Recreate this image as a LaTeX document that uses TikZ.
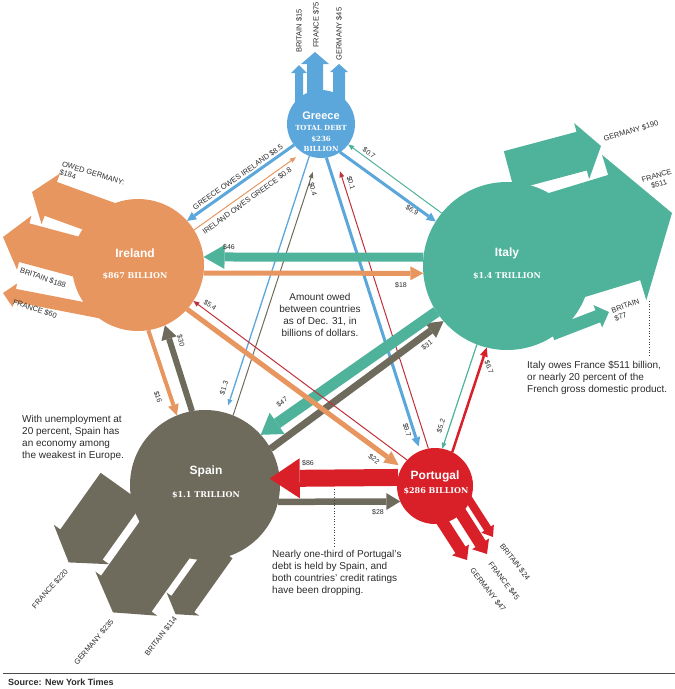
\documentclass[tikz,border=0pt]{standalone}
\usepackage{fontspec}
\setmainfont{Liberation Sans}
\newfontfamily\amtfont{DejaVu Serif}
\usetikzlibrary{arrows.meta,calc}
\definecolor{grc}{HTML}{5BA6DB}
\definecolor{irl}{HTML}{E8965F}
\definecolor{ita}{HTML}{4FB39B}
\definecolor{spn}{HTML}{6E6A5C}
\definecolor{prt}{HTML}{D92029}
\definecolor{prtthin}{HTML}{C0303A}
\definecolor{txtc}{HTML}{2B2B2B}
\tikzset{
  ctry/.style={circle, inner sep=0pt, outer sep=0pt, minimum size=#1},
  flow/.style n args={4}{draw=#1, line width=#2, -{Triangle[length=#4, width=#3, line width=0pt 0 0]}},
  amt/.style={font=\fontsize{7}{8}\selectfont, text=txtc, inner sep=0pt},
  outl/.style={font=\fontsize{7.5}{8.5}\selectfont, text=txtc, inner sep=0pt},
  cname/.style={font=\fontsize{12}{14}\selectfont\bfseries, text=white, inner sep=0pt},
  csum/.style={font=\amtfont\fontsize{8}{9}\selectfont\bfseries, text=white, inner sep=0pt},
  note/.style={font=\fontsize{10}{12}\selectfont, text=txtc, inner sep=0pt, align=left},
  leader/.style={draw=black!75, line width=0.7pt, dotted},
}
% broad outflow arrow: colour, tail, tip, half shaft width, half head width, head length
\newcommand{\fatflow}[6]{%
  \coordinate (fbk) at ($(#3)!#6pt!(#2)$);
  \fill[#1] ($(#2)!#4pt!90:(#3)$) -- ($(fbk)!#4pt!-90:(#2)$) -- ($(fbk)!#5pt!-90:(#2)$)
    -- (#3) -- ($(fbk)!#5pt!90:(#2)$) -- ($(fbk)!#4pt!90:(#2)$) -- ($(#2)!#4pt!-90:(#3)$) -- cycle;}
\begin{document}
\begin{tikzpicture}[x=1pt,y=-1pt]
\useasboundingbox (0,0) rectangle (675,689);

% ---------- outflows to other countries ----------
% Greece
\fatflow{grc}{299,112}{299,65}{4}{8}{8}
\fatflow{grc}{315,112}{315,52}{8}{14}{12}
\fatflow{grc}{339,112}{339,64}{6}{9}{8}
% Ireland
\fatflow{irl}{144.8,233}{32,192}{18}{27}{20}
\fatflow{irl}{128.6,270.7}{3,237}{20}{28}{22}
\fatflow{irl}{101,312}{3,293}{6.5}{12}{12}
% Italy
\fatflow{ita}{509,170.5}{601,146}{20}{29}{20}
\fatflow{ita}{557,248}{672,213}{55}{76}{50}
\fatflow{ita}{552,334}{609,312}{6.5}{12}{12}
% Spain
\fatflow{spn}{121.8,487.9}{68.7,562.4}{26}{34}{22}
\fatflow{spn}{204.2,484.2}{113,612.4}{31}{38}{23}
\fatflow{spn}{221.1,550.2}{175.6,614.2}{14}{20}{12.5}
% Portugal
\fatflow{prt}{429,501}{467,560}{6}{10}{12}
\fatflow{prt}{452,499}{487,554}{6}{10}{12}
\fatflow{prt}{466,495}{493,537}{4}{7.5}{10}

% ---------- countries ----------
\node[ctry=68pt, fill=grc] (greece) at (321,124) {};
\node[ctry=132pt, fill=irl] (ireland) at (138,265) {};
\node[ctry=168pt, fill=ita] (italy) at (507,266) {};
\node[ctry=150pt, fill=spn] (spain) at (205,485) {};
\node[ctry=76pt, fill=prt] (portugal) at (435,486) {};

% ---------- debts between countries ----------
\draw[flow={grc}{3pt}{9pt}{9pt}] (greece.218) -- (ireland.42);
\draw[flow={irl}{1pt}{5pt}{6pt}, shorten >=8pt] (ireland.32.5) -- (greece.237);
\draw[flow={grc}{3pt}{9pt}{9pt}] (greece.-56) -- (italy.148);
\draw[flow={ita}{1pt}{5pt}{6pt}] (italy.141.6) -- (greece.-37);
\draw[flow={grc}{1.3pt}{5pt}{6pt}, shorten >=8pt] (greece.250) -- (spain.74.6);
\draw[flow={spn}{1pt}{5pt}{6pt}, shorten >=15pt] (spain.68.7) -- (greece.264.7);
\draw[flow={grc}{3pt}{9pt}{9pt}, shorten >=5pt] (greece.-81) -- (portugal.113);
\draw[flow={prtthin}{1pt}{5pt}{6pt}, shorten >=17pt] (portugal.100.4) -- (greece.-66.4);
\draw[flow={ita}{9pt}{24pt}{21pt}] (italy.174) -- (ireland.7);
\draw[flow={irl}{5pt}{14pt}{13pt}] (ireland.-7.8) -- (italy.185.5);
\draw[flow={spn}{7pt}{18pt}{16pt}] (spain.29.2) -- (italy.221.4);
\draw[flow={ita}{11pt}{26pt}{20pt}] (italy.213.3) -- (spain.42.5);
\draw[flow={irl}{4pt}{11pt}{11pt}] (ireland.-81.3) -- (spain.112.6);
\draw[flow={spn}{6pt}{16pt}{14pt}] (spain.100.1) -- (ireland.-66.8);
\draw[flow={irl}{5pt}{14pt}{14pt}, shorten >=4pt] (ireland.-42.6) -- (portugal.151);
\draw[flow={prtthin}{1pt}{5pt}{6pt}] (portugal.137) -- (ireland.-33.7);
\draw[flow={prt}{17pt}{40pt}{30pt}, shorten >=-10pt] (portugal.167.8) -- (spain.5.4);
\draw[flow={spn}{6.5pt}{17pt}{14pt}] (spain.-13.1) -- (portugal.204.9);
\draw[flow={prt}{2.5pt}{8pt}{9pt}] (portugal.63.4) -- (italy.256.9);
\draw[flow={ita}{1.2pt}{5pt}{6pt}] (italy.249.1) -- (portugal.79);

% ---------- country texts ----------
\node[cname, font=\fontsize{11}{13}\selectfont\bfseries] (grN) at (321,116) {Greece};
\node[csum, font=\amtfont\fontsize{7}{8}\selectfont\bfseries] (grA) at (321,128) {TOTAL DEBT};
\node[csum, font=\amtfont\fontsize{7}{8}\selectfont\bfseries] (grB) at (321,139) {\$236};
\node[csum, font=\amtfont\fontsize{7}{8}\selectfont\bfseries] (grC) at (321,149) {BILLION};
\node[cname] (irN) at (135,253) {Ireland};
\node[csum] (irA) at (135,276) {\$867 BILLION};
\node[cname] (itN) at (507,253) {Italy};
\node[csum] (itA) at (507,276) {\$1.4 TRILLION};
\node[cname] (spN) at (206,471) {Spain};
\node[csum] (spA) at (206,495) {\$1.1 TRILLION};
\node[cname] (ptN) at (435,476) {Portugal};
\node[csum] (ptA) at (436,491) {\$286 BILLION};

% ---------- outflow labels ----------
\node[outl, rotate=90] (gL1) at (299,31) {BRITAIN \$15};
\node[outl, rotate=90] (gL2) at (316,25) {FRANCE \$75};
\node[outl, rotate=90] (gL3) at (339,34) {GERMANY \$45};
\node[outl, rotate=-17, anchor=north west, align=left] (iL1) at (63,161) {OWED GERMANY:\\\$184};
\node[outl, rotate=-19] (iL2) at (43,278) {BRITAIN \$188};
\node[outl, rotate=-18] (iL3) at (35,309) {FRANCE \$60};
\node[outl, rotate=17] (tL1) at (631,131) {GERMANY \$190};
\node[outl, rotate=17, align=center] (tL2) at (658,180) {FRANCE\\\$511};
\node[outl, rotate=20, align=left] (tL3) at (627,310) {BRITAIN\\\$77};
\node[outl, rotate=48] (sL1) at (50,589) {FRANCE \$220};
\node[outl, rotate=50] (sL2) at (94,642) {GERMANY \$235};
\node[outl, rotate=52] (sL3) at (161,636) {BRITAIN \$114};
\node[outl, rotate=-52] (pL1) at (515,562) {BRITAIN \$24};
\node[outl, rotate=-52] (pL2) at (504,581) {FRANCE \$45};
\node[outl, rotate=-52] (pL3) at (488,590) {GERMANY \$47};

% ---------- amount labels ----------
\node[outl, rotate=35] (a1) at (238,177) {GREECE OWES IRELAND \$8.5};
\node[outl, rotate=36] (a2) at (247,201) {IRELAND OWES GREECE \$0.8};
\node[amt, rotate=-35] (a3) at (412,210) {\$6.9};
\node[amt, rotate=-37] (a4) at (369,153) {\$0.7};
\node[amt, rotate=72] (a5) at (224,388) {\$1.3};
\node[amt, rotate=-75] (a6) at (313,189) {\$0.4};
\node[amt, rotate=-73] (a7) at (407,430) {\$9.7};
\node[amt, rotate=-72] (a8) at (351,183) {\$0.1};
\node[amt] (a9) at (229,247) {\$46};
\node[amt] (a10) at (401,285) {\$18};
\node[amt, rotate=36] (a11) at (427,345) {\$31};
\node[amt, rotate=35] (a12) at (282,402) {\$47};
\node[amt, rotate=-72] (a13) at (158,397) {\$16};
\node[amt, rotate=-75] (a14) at (181,341) {\$30};
\node[amt, rotate=-37] (a15) at (374,459) {\$22};
\node[amt, rotate=-35] (a16) at (210,305) {\$5.4};
\node[amt] (a17) at (308,463) {\$86};
\node[amt] (a18) at (378,512) {\$28};
\node[amt, rotate=-70] (a19) at (489,367) {\$6.7};
\node[amt, rotate=72] (a20) at (441,426) {\$5.2};

% ---------- notes ----------
\node[note, align=center] (nAmt) at (320,315) {Amount owed\\between countries\\as of Dec. 31, in\\billions of dollars.};
\node[note, anchor=west] (nSp) at (22,438) {With unemployment at\\20 percent, Spain has\\an economy among\\the weakest in Europe.};
\node[note, anchor=west, font=\fontsize{10}{11.7}\selectfont] (nIt) at (527,378) {Italy owes France \$511 billion,\\or nearly 20 percent of the\\French gross domestic product.};
\node[note, anchor=west] (nPt) at (272,573) {Nearly one-third of Portugal's\\debt is held by Spain, and\\both countries' credit ratings\\have been dropping.};

\coordinate (dI1) at (649,301);
\coordinate (dI2) at (649,357);
\draw[leader] (dI1) -- (dI2);
\coordinate (dP1) at (334,489);
\coordinate (dP2) at (334,547);
\draw[leader] (dP1) -- (dP2);

% ---------- source ----------
\coordinate (r1) at (3,673);
\coordinate (r2) at (675,673);
\draw[draw=black!70, line width=0.8pt] (r1) -- (r2);
\node[font=\fontsize{9}{10}\selectfont\bfseries, text=txtc, anchor=west, inner sep=0pt] (src) at (8,682) {Source: New York Times};
\end{tikzpicture}
\end{document}
